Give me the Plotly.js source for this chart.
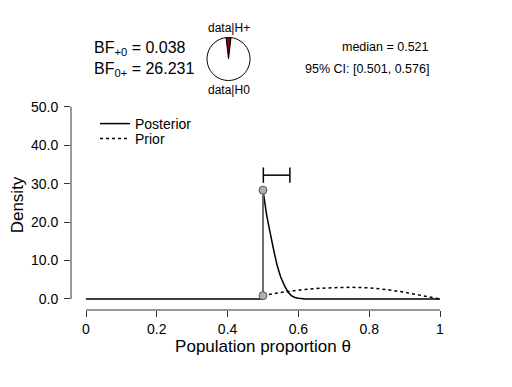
<!DOCTYPE html>
<html>
<head>
<meta charset="utf-8">
<script src="https://cdn.plot.ly/plotly-3.0.1.min.js"></script>
<style>html,body{margin:0;padding:0;background:#fff;}#chart{width:512px;height:387px;}</style>
</head>
<body>
<div id="chart"></div>
<script>
// ---- data ----
const thetaPost = [0, 0.5, 0.5, 0.505, 0.51, 0.515, 0.52, 0.53, 0.54, 0.55, 0.56, 0.57, 0.58, 0.59, 0.60, 0.62, 0.65, 0.70, 0.80, 0.90, 1.0];
const densPost  = [0, 0,   28.3, 24.4, 22.0, 19.6, 17.2, 12.8, 8.7, 5.7, 3.6, 1.9, 0.9, 0.4, 0.2, 0.03, 0, 0, 0, 0, 0];
const thetaPrior = [0.5, 0.55, 0.6, 0.65, 0.7, 0.75, 0.8, 0.85, 0.9, 0.95, 1.0];
const densPrior  = [0.87, 1.7, 2.3, 2.75, 2.95, 3.05, 2.9, 2.45, 1.75, 0.8, 0];
const pointTheta = 0.5;
const posteriorAtPoint = 28.3;
const priorAtPoint = 0.87;
const ciBounds = [0.501, 0.576];
const medianVal = 0.521;
const bfPlus0 = 0.038;
const bf0Plus = 26.231;
const pieLabels = ['data|H+', 'data|H0'];
const pieValues = [bfPlus0, 1];
const xTickVals = [0, 0.2, 0.4, 0.6, 0.8, 1];
const xTickText = ['0', '0.2', '0.4', '0.6', '0.8', '1'];
const yTickVals = [0, 10, 20, 30, 40, 50];
const yTickText = ['0.0', '10.0', '20.0', '30.0', '40.0', '50.0'];

// ---- styling / layout ----
const FONT = 'Liberation Sans, Arial, sans-serif';
const ciY = 32.2, ciCap = 2.0;

const traces = [
  {x: thetaPrior, y: densPrior, type: 'scatter', mode: 'lines', name: 'Prior', legend: 'legend2',
   line: {color: '#000', width: 1.5, dash: 'dot'}, hoverinfo: 'skip', showlegend: true},
  {x: thetaPost, y: densPost, type: 'scatter', mode: 'lines', name: 'Posterior', legend: 'legend',
   line: {color: '#000', width: 1.5}, hoverinfo: 'skip', showlegend: true},
  {x: [pointTheta, pointTheta], y: [priorAtPoint, posteriorAtPoint], type: 'scatter', mode: 'lines+markers',
   line: {color: '#808080', width: 1.5},
   marker: {size: 8, color: '#b0b0b0', line: {color: '#555', width: 1}},
   hoverinfo: 'skip', showlegend: false, cliponaxis: false},
  {x: [ciBounds[0], ciBounds[0], null, ciBounds[0], ciBounds[1], null, ciBounds[1], ciBounds[1]],
   y: [ciY - ciCap, ciY + ciCap, null, ciY, ciY, null, ciY - ciCap, ciY + ciCap],
   type: 'scatter', mode: 'lines', line: {color: '#000', width: 1.5},
   hoverinfo: 'skip', showlegend: false},
  {type: 'pie', values: pieValues, labels: pieLabels, sort: false, direction: 'clockwise',
   rotation: -180 * pieValues[0] / (pieValues[0] + pieValues[1]),
   marker: {colors: ['#8b0000', '#ffffff'], line: {color: '#000', width: 1}},
   textinfo: 'none', hoverinfo: 'skip', showlegend: false,
   domain: {x: [0.3542, 0.4662], y: [0.7914, 0.9397]}}
];

const legendBase = {x: 0.0625, xanchor: 'left', yanchor: 'middle', bgcolor: 'rgba(0,0,0,0)',
                    font: {size: 14, family: FONT}, itemwidth: 30};

const layout = {
  width: 512, height: 387,
  margin: {l: 71, r: 57, t: 20, b: 77},
  paper_bgcolor: '#fff', plot_bgcolor: '#fff',
  font: {family: FONT, color: '#000'},
  showlegend: true,
  legend: Object.assign({}, legendBase, {y: 0.6414}),
  legend2: Object.assign({}, legendBase, {y: 0.5897}),
  xaxis: {range: [-0.04237, 1.04237], showgrid: false, zeroline: false, showline: false,
          tickvals: xTickVals, ticktext: xTickText, ticks: 'outside', ticklen: 6, tickwidth: 1, tickcolor: '#333',
          tickfont: {size: 14, family: FONT}, ticklabelstandoff: 0,
          title: {text: 'Population proportion θ', font: {size: 17, family: FONT}, standoff: 3}},
  yaxis: {domain: [0, 0.72414], range: [-2.86, 51.74], showgrid: false, zeroline: false, showline: false,
          tickvals: yTickVals, ticktext: yTickText, ticks: 'outside', ticklen: 6, tickwidth: 1, tickcolor: '#333',
          tickfont: {size: 14, family: FONT}, ticklabelstandoff: 3,
          title: {text: 'Density', font: {size: 17, family: FONT}, standoff: 2}},
  shapes: [
    {type: 'line', xref: 'x', yref: 'paper', x0: xTickVals[0], x1: xTickVals[xTickVals.length - 1], y0: 0, y1: 0,
     line: {color: '#333', width: 1}},
    {type: 'line', xref: 'paper', yref: 'y', x0: 0, x1: 0, y0: yTickVals[0], y1: yTickVals[yTickVals.length - 1],
     line: {color: '#333', width: 1}}
  ],
  annotations: [
    {xref: 'paper', yref: 'paper', x: 0.0547, y: 0.9034, xanchor: 'left', yanchor: 'middle', showarrow: false,
     text: 'BF<sub>+0</sub> = ' + bfPlus0.toFixed(3), font: {size: 16, family: FONT}},
    {xref: 'paper', yref: 'paper', x: 0.0547, y: 0.8276, xanchor: 'left', yanchor: 'middle', showarrow: false,
     text: 'BF<sub>0+</sub> = ' + bf0Plus.toFixed(3), font: {size: 16, family: FONT}},
    {xref: 'paper', yref: 'paper', x: 0.9375, y: 0.907, xanchor: 'right', yanchor: 'middle', showarrow: false,
     text: 'median = ' + medianVal.toFixed(3), font: {size: 12.5, family: FONT}},
    {xref: 'paper', yref: 'paper', x: 0.9375, y: 0.831, xanchor: 'right', yanchor: 'middle', showarrow: false,
     text: '95% CI: [' + ciBounds[0].toFixed(3) + ', ' + ciBounds[1].toFixed(3) + ']', font: {size: 12.5, family: FONT}},
    {xref: 'paper', yref: 'paper', x: 0.4102, y: 0.9707, xanchor: 'center', yanchor: 'middle', showarrow: false,
     text: pieLabels[0], font: {size: 12, family: FONT}},
    {xref: 'paper', yref: 'paper', x: 0.4102, y: 0.7603, xanchor: 'center', yanchor: 'middle', showarrow: false,
     text: pieLabels[1], font: {size: 12, family: FONT}}
  ]
};

Plotly.newPlot('chart', traces, layout, {staticPlot: true, displayModeBar: false});
</script>
</body>
</html>
